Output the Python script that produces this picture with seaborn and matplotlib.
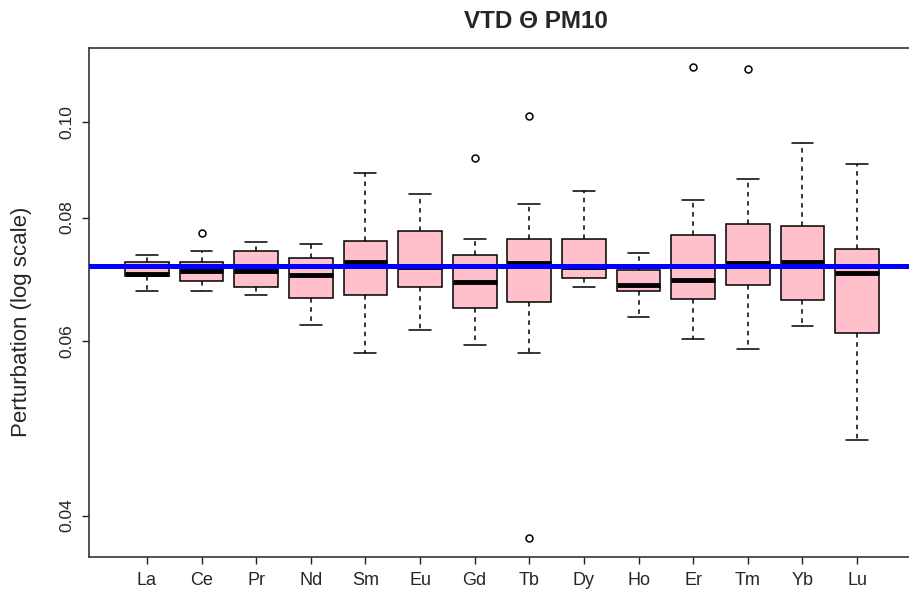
import numpy as np
import pandas as pd
import matplotlib
matplotlib.use("Agg")
import matplotlib.pyplot as plt
from matplotlib.ticker import NullLocator, FixedLocator
import seaborn as sns

# ---- data ----
elements = ["La", "Ce", "Pr", "Nd", "Sm", "Eu", "Gd", "Tb", "Dy", "Ho", "Er", "Tm", "Yb", "Lu"]
whisker_low = [0.06739, 0.06739, 0.06683, 0.06233, 0.05844, 0.06165, 0.05950, 0.05844,
               0.06802, 0.06344, 0.06033, 0.05898, 0.06223, 0.04773]
q1 = [0.06978, 0.06898, 0.06809, 0.06637, 0.06683, 0.06809, 0.06478, 0.06569,
      0.06952, 0.06739, 0.06621, 0.06840, 0.06599, 0.06112]
median = [0.07022, 0.07071, 0.07060, 0.07006, 0.07209, 0.07130, 0.06893, 0.07199,
          0.07135, 0.06845, 0.06914, 0.07199, 0.07216, 0.07034]
q3 = [0.07216, 0.07216, 0.07408, 0.07277, 0.07582, 0.07756, 0.07340, 0.07613,
      0.07613, 0.07088, 0.07689, 0.07883, 0.07839, 0.07431]
whisker_high = [0.07334, 0.07408, 0.07552, 0.07525, 0.08867, 0.08453, 0.07613, 0.08250,
                0.08504, 0.07362, 0.08327, 0.08744, 0.09508, 0.09063]
outliers_low = [[], [], [], [], [], [], [], [0.03794], [], [], [], [], [], []]
outliers_high = [[], [0.07716], [], [], [], [], [0.09197], [0.10140], [], [], [0.11357], [0.11293], [], []]
reference_level = 1 / 14
ytick_values = [0.04, 0.06, 0.08, 0.10]
ytick_labels = ["0.04", "0.06", "0.08", "0.10"]
title = "VTD Θ PM10"
ylabel = "Perturbation (log scale)"

# Build samples whose quartiles / whiskers reproduce the summaries exactly (n = 9)
records = []
for i, el in enumerate(elements):
    L, H = outliers_low[i], outliers_high[i]
    sample = (list(L) + [whisker_low[i]] + [q1[i]] * (2 - len(L)) + [median[i]] * 3
              + [q3[i]] * (2 - len(H)) + [whisker_high[i]] + list(H))
    for v in sample:
        records.append({"element": el, "value": v})
df = pd.DataFrame(records)

# ---- plot ----
sns.set_style("ticks")
plt.rcParams["font.family"] = ["Liberation Sans", "DejaVu Sans"]

W, H_ = 909, 597
fig = plt.figure(figsize=(W / 100, H_ / 100), dpi=100)
ax = fig.add_axes([89 / W, 40 / H_, 826 / W, 509 / H_])

sns.boxplot(data=df, x="element", y="value", order=elements, ax=ax,
            color="#FFC0CB", saturation=1, width=0.8, linecolor="black", linewidth=1.1,
            whis=1.5,
            whiskerprops=dict(linestyle=(0, (3, 3)), linewidth=1.1),
            capprops=dict(linewidth=1.1),
            medianprops=dict(linewidth=3.5, color="black"),
            flierprops=dict(marker="o", markerfacecolor="none", markeredgecolor="black",
                            markeredgewidth=1.1, markersize=5))

ax.axhline(reference_level, color="#0000FF", lw=3.6, zorder=10)

ax.set_yscale("log")
ax.set_ylim(0.03632, 0.1187)
ax.yaxis.set_major_locator(FixedLocator(ytick_values))
ax.set_yticklabels(ytick_labels)
ax.yaxis.set_minor_locator(NullLocator())
ax.set_xlim(-1.06, 14.06)

ax.set_xlabel("")
ax.set_ylabel("")
ax.tick_params(axis="y", length=5, width=1, pad=5.5, labelsize=12.5, color="#222222")
ax.tick_params(axis="x", length=5, width=1, pad=6, labelsize=13, color="#222222")
for lab in ax.get_yticklabels():
    lab.set_rotation(90)
    lab.set_va("center")

for s in ax.spines.values():
    s.set_visible(True)
    s.set_color("#333333")
    s.set_linewidth(1.2)
ax.spines["right"].set_visible(False)

fig.text(536 / W, 1 - 22 / H_, title, ha="center", va="center", fontsize=17.5, fontweight="bold")
fig.text(22 / W, 1 - 322 / H_, ylabel, ha="center", va="center", rotation=90, fontsize=16)

fig.savefig("out.png", dpi=100)
